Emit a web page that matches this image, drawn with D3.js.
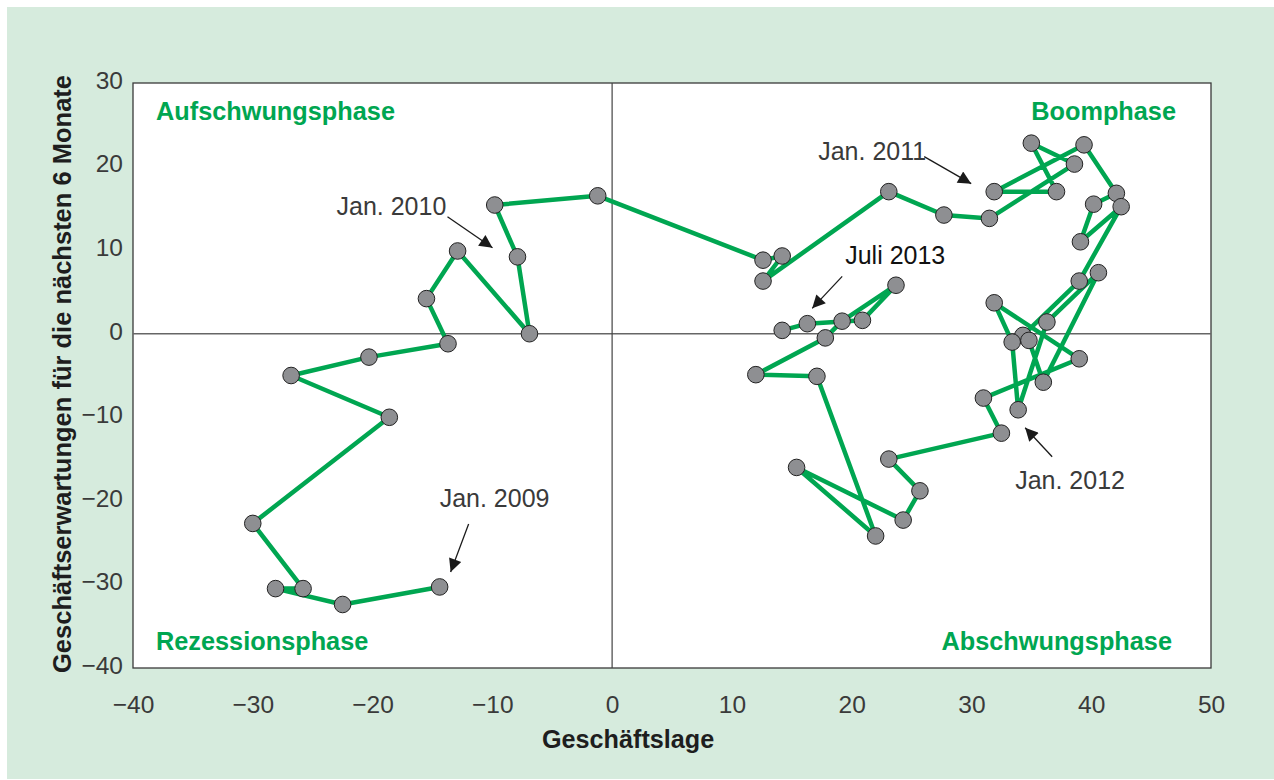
<!DOCTYPE html>
<html>
<head>
<meta charset="utf-8">
<script src="https://cdn.jsdelivr.net/npm/d3@7"></script>
<style>
  body { margin: 0; background: #fff; }
  svg text { font-family: "Liberation Sans", Arial, sans-serif; }
</style>
</head>
<body>
<div id="canvas"></div>
<script>
// ifo Konjunkturuhr, Jan. 2009 - Juli 2013 (monthly)
var lage = [
  -14.4, -22.5, -28.1, -25.8, -30.0, -18.6, -26.8, -20.3, -13.7, -15.5, -12.9, -6.9,
  -7.9, -9.8, -1.2, 12.6, 14.2, 12.6, 23.1, 27.7, 31.5, 38.6, 35.0, 37.1,
  31.9, 39.4, 42.1, 40.2, 39.1, 42.5, 39.0, 34.3, 34.8, 36.0, 40.6, 36.3,
  33.9, 33.4, 31.9, 39.0, 31.0, 32.5, 23.1, 25.7, 24.3, 15.4, 22.0, 17.1,
  12.0, 17.8, 19.2, 23.7, 20.9, 16.3, 14.2
];
var erwartung = [
  -30.3, -32.4, -30.5, -30.5, -22.7, -10.0, -5.0, -2.8, -1.2, 4.2, 9.9, 0.0,
  9.2, 15.4, 16.5, 8.8, 9.3, 6.3, 17.0, 14.2, 13.8, 20.3, 22.8, 17.0,
  17.0, 22.6, 16.8, 15.5, 11.0, 15.2, 6.3, -0.2, -0.8, -5.8, 7.3, 1.4,
  -9.1, -1.0, 3.7, -3.0, -7.7, -11.9, -15.0, -18.8, -22.3, -16.0, -24.2, -5.1,
  -4.9, -0.5, 1.5, 5.8, 1.6, 1.2, 0.4
];
var xTicks = [-40, -30, -20, -10, 0, 10, 20, 30, 40, 50];
var yTicks = [-40, -30, -20, -10, 0, 10, 20, 30];
var phasen = ["Aufschwungsphase", "Boomphase", "Rezessionsphase", "Abschwungsphase"];
var phasenPos = [[-40, 30], [50, 30], [-40, -40], [50, -40]];
var notizen = ["Jan. 2009", "Jan. 2010", "Jan. 2011", "Jan. 2012", "Juli 2013"];
var notizIndex = [0, 12, 24, 36, 54];

var W = 1274, H = 780;
var m = {t: 83, r: 63, b: 112, l: 133};
var w = W - m.l - m.r, h = H - m.t - m.b;

var svg = d3.select('#canvas').append('svg')
  .attr('width', W).attr('height', H);

svg.append('defs').append('marker')
  .attr('id', 'pfeil').attr('viewBox', '0 0 10 10')
  .attr('refX', 10).attr('refY', 5)
  .attr('markerWidth', 17).attr('markerHeight', 13)
  .attr('markerUnits', 'userSpaceOnUse')
  .attr('orient', 'auto')
  .append('path').attr('d', 'M0,0 L10,5 L0,10 Z').attr('fill', '#1a1a1a');

// green background panel
svg.append('rect').attr('x', 7).attr('y', 7)
  .attr('width', W - 7).attr('height', H - 8)
  .attr('fill', '#d6ebdd');

var plot = svg.append('g').attr('transform', 'translate(' + m.l + ',' + m.t + ')');

var x = d3.scaleLinear().domain([-40, 50]).range([0, w]);
var y = d3.scaleLinear().domain([-40, 30]).range([h, 0]);

plot.append('rect').attr('width', w).attr('height', h)
  .attr('fill', '#fff').attr('stroke', '#3a3a3a').attr('stroke-width', 1.3);

plot.append('line').attr('x1', 0).attr('x2', w).attr('y1', y(0)).attr('y2', y(0))
  .attr('stroke', '#666').attr('stroke-width', 1.5);
plot.append('line').attr('x1', x(0)).attr('x2', x(0)).attr('y1', 0).attr('y2', h)
  .attr('stroke', '#444').attr('stroke-width', 1.2);

// axes (labels only)
var fmt = function(d){ return d < 0 ? '\u2212' + Math.abs(d) : d; };
var xAxis = plot.append('g').attr('transform', 'translate(0,' + h + ')')
  .call(d3.axisBottom(x).tickValues(xTicks).tickFormat(fmt).tickSize(0).tickPadding(28));
var yAxis = plot.append('g')
  .call(d3.axisLeft(y).tickValues(yTicks).tickFormat(fmt).tickSize(0).tickPadding(10));
[xAxis, yAxis].forEach(function(a){
  a.select('.domain').remove();
  a.selectAll('text').attr('font-size', 24.5).attr('fill', '#3a3a3a')
    .style('font-family', '"Liberation Sans", Arial, sans-serif');
});
yAxis.selectAll('text').attr('dy', '0.22em');

// phase labels
plot.selectAll('.phase').data(phasen).enter().append('text')
  .attr('class', 'phase')
  .attr('x', function(d, i){ return x(phasenPos[i][0]) + (i % 2 ? (i < 2 ? -35 : -39) : 23); })
  .attr('y', function(d, i){ return y(phasenPos[i][1]) + (i < 2 ? 37 : -18); })
  .attr('text-anchor', function(d, i){ return i % 2 ? 'end' : 'start'; })
  .attr('font-size', 25.3).attr('font-weight', 'bold').attr('fill', '#00a651')
  .text(function(d){ return d; });

// path of the clock
var pts = lage.map(function(d, i){ return [d, erwartung[i]]; });
var line = d3.line().x(function(d){ return x(d[0]); }).y(function(d){ return y(d[1]); });
plot.append('path').datum(pts).attr('d', line)
  .attr('fill', 'none').attr('stroke', '#00a651').attr('stroke-width', 4.5)
  .attr('stroke-linejoin', 'round');

plot.selectAll('.pt').data(pts).enter().append('circle')
  .attr('class', 'pt')
  .attr('cx', function(d){ return x(d[0]); })
  .attr('cy', function(d){ return y(d[1]); })
  .attr('r', 8.3)
  .attr('fill', '#8e8f92').attr('stroke', '#222').attr('stroke-width', 1);

// annotations: text offset and arrow offsets relative to the point
var notizOff = [
  {tx: 0, ty: -80, ax1: 29, ay1: -63, ax2: 11, ay2: -15},
  {tx: -181, ty: -42, ax1: -70, ay1: -40, ax2: -25, ay2: -9},
  {tx: -176, ty: -32, ax1: -70, ay1: -35, ax2: -23, ay2: -8},
  {tx: -3, ty: 79, ax1: 34, ay1: 47, ax2: 7, ay2: 18},
  {tx: 63, ty: -66, ax1: 60, ay1: -54, ax2: 30, ay2: -22}
];
notizen.forEach(function(n, i){
  var p = pts[notizIndex[i]], o = notizOff[i];
  var px = x(p[0]), py = y(p[1]);
  plot.append('text').attr('x', px + o.tx).attr('y', py + o.ty)
    .attr('font-size', 25).attr('fill', i === 4 ? '#111' : '#3a3a3a')
    .text(n);
  plot.append('line')
    .attr('x1', px + o.ax1).attr('y1', py + o.ay1)
    .attr('x2', px + o.ax2).attr('y2', py + o.ay2)
    .attr('stroke', '#1a1a1a').attr('stroke-width', 1.3)
    .attr('marker-end', 'url(#pfeil)');
});

// axis titles
svg.append('text').attr('x', m.l + x(0) + 16).attr('y', 748)
  .attr('text-anchor', 'middle').attr('font-size', 25.2).attr('font-weight', 'bold')
  .attr('fill', '#1e1e1e').text('Geschäftslage');
svg.append('text')
  .attr('transform', 'translate(71,374) rotate(-90)')
  .attr('text-anchor', 'middle').attr('font-size', 25.5).attr('font-weight', 'bold')
  .attr('fill', '#1e1e1e').text('Geschäftserwartungen für die nächsten 6 Monate');
</script>
</body>
</html>
